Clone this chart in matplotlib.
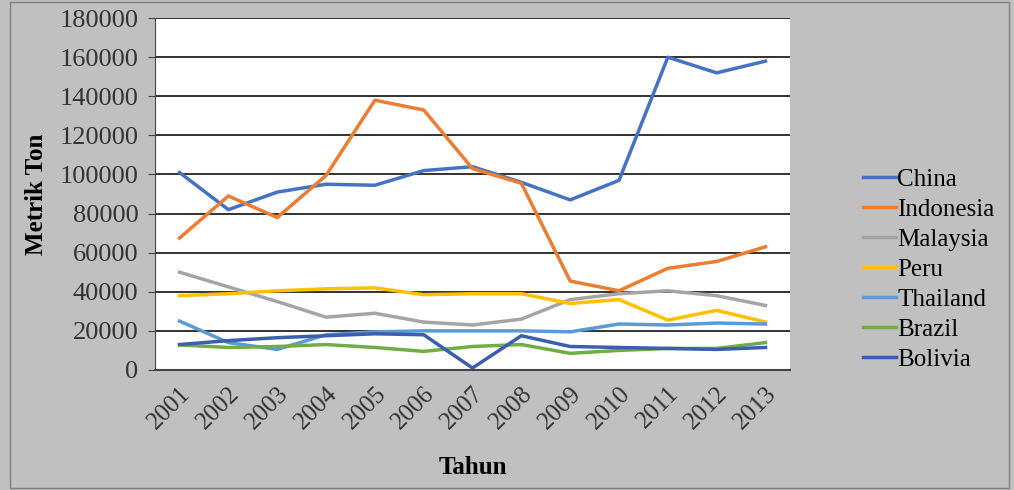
import numpy as np
import matplotlib
matplotlib.use('Agg')
import matplotlib.pyplot as plt
from matplotlib.patches import Rectangle

years = ['2001', '2002', '2003', '2004', '2005', '2006', '2007',
         '2008', '2009', '2010', '2011', '2012', '2013']

china = [101000, 82000, 91000, 95000, 94500, 102000, 104000, 96000, 87000, 97000, 160000, 152000, 158000]
indonesia = [67500, 89000, 78000, 99500, 138000, 133000, 103000, 95500, 45500, 40500, 52000, 55500, 63000]
malaysia = [50000, 42500, 35000, 27000, 29000, 24500, 23000, 26000, 36000, 39000, 40500, 38000, 33000]
peru = [38000, 39000, 40500, 41500, 42000, 38500, 39000, 39000, 34000, 36000, 25500, 30500, 24500]
thailand = [25000, 14000, 10500, 18000, 19500, 20000, 20000, 20000, 19500, 23500, 23000, 24000, 23500]
brazil = [12800, 11500, 12000, 13000, 11500, 9500, 12000, 13000, 8500, 10000, 11000, 11000, 14000]
bolivia = [13000, 15000, 16500, 17500, 18500, 18000, 1000, 17500, 12000, 11500, 11000, 10500, 11500]

series = [('China', china, '#4472C4'),
          ('Indonesia', indonesia, '#ED7D31'),
          ('Malaysia', malaysia, '#A5A5A5'),
          ('Peru', peru, '#FFC000'),
          ('Thailand', thailand, '#5B9BD5'),
          ('Brazil', brazil, '#70AD47'),
          ('Bolivia', bolivia, '#3B5FAE')]

plt.rcParams['font.family'] = ['Liberation Serif', 'DejaVu Serif']

fig = plt.figure(figsize=(10.14, 4.9), dpi=100, facecolor='#C0C0C0')
fig.patches.append(Rectangle((0.01, 0.005), 0.985, 0.99, transform=fig.transFigure,
                             fill=False, edgecolor='#808080', linewidth=1))
ax = fig.add_axes([0.153, 0.245, 0.626, 0.718])
ax.set_facecolor('white')

x = np.arange(len(years))
for name, vals, col in series:
    ax.plot(x, vals, color=col, linewidth=2.5, label=name)

ax.set_xlim(-0.5, len(years) - 0.5)
ax.set_ylim(0, 180000)
ax.set_yticks(np.arange(0, 180001, 20000))
ax.set_yticklabels([str(v) for v in range(0, 180001, 20000)], fontsize=19, color='#333333')
ax.set_xticks(x)
ax.set_xticklabels(years, rotation=45, ha='right', rotation_mode='anchor', fontsize=18, color='#333333')
ax.grid(axis='y', color='#222222', linewidth=1.3)
ax.set_axisbelow(True)
ax.tick_params(axis='y', length=5, color='#444444', pad=7)
ax.tick_params(axis='x', length=0, pad=9)

for s in ['top', 'right']:
    ax.spines[s].set_visible(False)
ax.spines['left'].set_color('#444444')
ax.spines['bottom'].set_color('#444444')
ax.spines['bottom'].set_linewidth(1.5)

ax.set_ylabel('Metrik Ton', fontsize=18, fontweight='bold', labelpad=8)
ax.set_xlabel('Tahun', fontsize=18, fontweight='bold', labelpad=16)

ax.legend(loc='center left', bbox_to_anchor=(1.1, 0.285), frameon=False, fontsize=18,
          handlelength=1.3, handletextpad=0.05, labelspacing=0.3, borderaxespad=0)

fig.savefig('out.png', dpi=100, facecolor=fig.get_facecolor())
